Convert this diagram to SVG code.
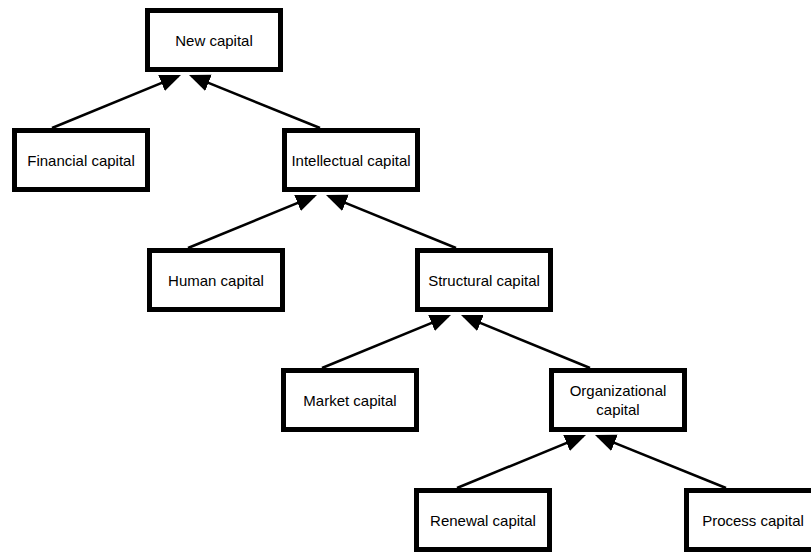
<svg xmlns="http://www.w3.org/2000/svg" width="811" height="552" viewBox="0 0 811 552">
<style>
.box{fill:#fff;stroke:#000;stroke-width:5}
.lbl{font-family:"Liberation Sans",Arial,sans-serif;font-size:15px;fill:#000;text-anchor:middle}
.edge{stroke:#000;stroke-width:2.5;fill:none;marker-end:url(#ah)}
</style>
<defs>
<marker id="ah" markerUnits="userSpaceOnUse" markerWidth="22" markerHeight="18" refX="18" refY="8.7" orient="auto" viewBox="0 0 22 18">
<path d="M0,0 L21,8.7 L0,17.4 z" fill="#000"/>
</marker>
</defs>
<rect width="811" height="552" fill="#fff"/>
<g id="connectors">
<line class="edge" x1="52" y1="128" x2="178.2" y2="76.1"/>
<line class="edge" x1="320" y1="128" x2="191.8" y2="76.1"/>
<line class="edge" x1="188" y1="248" x2="314.2" y2="196.1"/>
<line class="edge" x1="456" y1="248" x2="328.8" y2="196.1"/>
<line class="edge" x1="322" y1="368" x2="448.2" y2="316.1"/>
<line class="edge" x1="590" y1="368" x2="463.8" y2="316.1"/>
<line class="edge" x1="457" y1="488" x2="583.2" y2="436.1"/>
<line class="edge" x1="726" y1="488" x2="597.8" y2="436.1"/>
</g>
<g id="new-capital">
<rect class="box" x="147.5" y="10.5" width="133" height="59"/>
<text class="lbl" x="214" y="45.5">New capital</text>
</g>
<g id="financial-capital">
<rect class="box" x="14.5" y="130.5" width="133" height="59"/>
<text class="lbl" x="81" y="165.5">Financial capital</text>
</g>
<g id="intellectual-capital">
<rect class="box" x="284.5" y="130.5" width="133" height="59"/>
<text class="lbl" x="351" y="165.5">Intellectual capital</text>
</g>
<g id="human-capital">
<rect class="box" x="149.5" y="250.5" width="133" height="59"/>
<text class="lbl" x="216" y="285.5">Human capital</text>
</g>
<g id="structural-capital">
<rect class="box" x="417.5" y="250.5" width="133" height="59"/>
<text class="lbl" x="484" y="285.5">Structural capital</text>
</g>
<g id="market-capital">
<rect class="box" x="283.5" y="370.5" width="133" height="59"/>
<text class="lbl" x="350" y="405.5">Market capital</text>
</g>
<g id="organizational-capital">
<rect class="box" x="551.5" y="370.5" width="133" height="59"/>
<text class="lbl" x="618" y="395.5">Organizational</text>
<text class="lbl" x="618" y="414.5">capital</text>
</g>
<g id="renewal-capital">
<rect class="box" x="416.5" y="490.5" width="133" height="59"/>
<text class="lbl" x="483" y="525.5">Renewal capital</text>
</g>
<g id="process-capital">
<rect class="box" x="686.5" y="490.5" width="133" height="59"/>
<text class="lbl" x="753" y="525.5">Process capital</text>
</g>
</svg>
